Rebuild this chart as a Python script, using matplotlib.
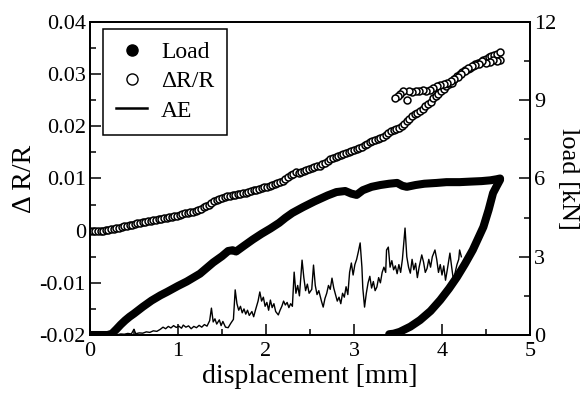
import matplotlib
matplotlib.use("Agg")
import matplotlib.pyplot as plt
from matplotlib.lines import Line2D
from matplotlib.ticker import MultipleLocator

plt.rcParams["font.family"] = ["Liberation Serif", "DejaVu Serif"]

# load during loading, displacement [mm] -> load [kN]
load_up_x = [0.00, 0.10, 0.20, 0.25, 0.30, 0.35, 0.40, 0.45, 0.50, 0.60, 0.70,
             0.80, 0.875, 1.00, 1.10, 1.25, 1.40, 1.50, 1.57, 1.62, 1.66, 1.75,
             1.85, 1.95, 2.05, 2.15, 2.22, 2.30, 2.42, 2.55, 2.70, 2.80, 2.90,
             2.97, 3.03, 3.10, 3.20, 3.30, 3.40, 3.49, 3.55, 3.60, 3.70, 3.80,
             3.94, 4.05, 4.20, 4.32, 4.45, 4.55, 4.62, 4.66]
load_up_y = [0.00, 0.00, 0.00, 0.05, 0.22, 0.40, 0.56, 0.70, 0.82, 1.08, 1.32,
             1.52, 1.65, 1.88, 2.05, 2.35, 2.78, 3.02, 3.22, 3.25, 3.20, 3.42,
             3.66, 3.88, 4.08, 4.30, 4.49, 4.68, 4.90, 5.12, 5.35, 5.48, 5.52,
             5.42, 5.37, 5.55, 5.68, 5.75, 5.80, 5.83, 5.72, 5.68, 5.75, 5.80,
             5.83, 5.86, 5.86, 5.88, 5.90, 5.93, 5.97, 6.00]

# load during unloading
load_down_x = [4.66, 4.62, 4.58, 4.53, 4.47, 4.41, 4.35, 4.26, 4.17, 4.08,
               3.98, 3.87, 3.75, 3.64, 3.52, 3.45, 3.40]
load_down_y = [5.95, 5.70, 5.44, 4.80, 4.14, 3.70, 3.26, 2.72, 2.22, 1.78,
               1.34, 0.92, 0.57, 0.32, 0.12, 0.05, 0.03]

# resistance change, loading branch
dr_up_x = [0.00, 0.03, 0.06, 0.09, 0.12, 0.15, 0.18, 0.21, 0.24, 0.27, 0.30,
           0.33, 0.36, 0.39, 0.42, 0.45, 0.48, 0.51, 0.54, 0.57, 0.60, 0.63,
           0.66, 0.69, 0.72, 0.75, 0.78, 0.81, 0.84, 0.87, 0.90, 0.93, 0.96,
           0.99, 1.02, 1.05, 1.08, 1.11, 1.14, 1.17, 1.20, 1.23, 1.26, 1.29,
           1.32, 1.35, 1.38, 1.41, 1.44, 1.47, 1.50, 1.53, 1.56, 1.59, 1.62,
           1.65, 1.68, 1.71, 1.74, 1.77, 1.80, 1.83, 1.86, 1.89, 1.92, 1.95,
           1.98, 2.01, 2.04, 2.07, 2.10, 2.13, 2.16, 2.19, 2.22, 2.25, 2.28,
           2.31, 2.34, 2.37, 2.40, 2.43, 2.46, 2.49, 2.52, 2.55, 2.58, 2.61,
           2.64, 2.67, 2.70, 2.73, 2.76, 2.79, 2.82, 2.85, 2.88, 2.91, 2.94,
           2.97, 3.00, 3.03, 3.06, 3.09, 3.12, 3.15, 3.18, 3.21, 3.24, 3.27,
           3.30, 3.33, 3.36, 3.39, 3.42, 3.45, 3.48, 3.51, 3.54, 3.57, 3.60,
           3.63, 3.66, 3.69, 3.72, 3.75, 3.78, 3.81, 3.84, 3.87, 3.90, 3.93,
           3.96, 3.99, 4.02, 4.05, 4.08, 4.11, 4.14, 4.17, 4.20, 4.23, 4.26,
           4.29, 4.32, 4.35, 4.38, 4.41, 4.44, 4.47, 4.50, 4.53, 4.56, 4.59,
           4.62, 4.66]
dr_up_y = [0.0000, 0.0000, 0.0000, -0.0001, 0.0000, 0.0000, 0.0001, 0.0002,
           0.0003, 0.0004, 0.0005, 0.0006, 0.0007, 0.0008, 0.0009, 0.0010,
           0.0011, 0.00125, 0.0014, 0.0015, 0.0016, 0.0017, 0.0018, 0.0019,
           0.0020, 0.0021, 0.0022, 0.0023, 0.0024, 0.0025, 0.0026, 0.0027,
           0.0028, 0.0029, 0.0030, 0.0032, 0.0033, 0.0034, 0.0035, 0.0036,
           0.0038, 0.0040, 0.0042, 0.0045, 0.0047, 0.0050, 0.0053, 0.0056,
           0.0058, 0.0061, 0.0063, 0.0065, 0.0066, 0.0067, 0.0068, 0.0069,
           0.0070, 0.0071, 0.0072, 0.0073, 0.0074, 0.0076, 0.0077, 0.0078,
           0.0080, 0.0081, 0.0083, 0.0084, 0.0086, 0.0088, 0.0090, 0.0092,
           0.0094, 0.0096, 0.0099, 0.0102, 0.0106, 0.0109, 0.0112, 0.0110,
           0.0113, 0.0115, 0.0117, 0.0119, 0.0120, 0.0122, 0.0123, 0.0124,
           0.0127, 0.0130, 0.0134, 0.0137, 0.0140, 0.0142, 0.0144, 0.0145,
           0.0146, 0.0148, 0.0150, 0.0152, 0.0154, 0.0156, 0.0158, 0.0161,
           0.0164, 0.0167, 0.0170, 0.0172, 0.0174, 0.0175, 0.0177, 0.0180,
           0.0184, 0.0188, 0.0191, 0.0193, 0.0194, 0.0196, 0.0200, 0.0205,
           0.0210, 0.0214, 0.0219, 0.0223, 0.0226, 0.0229, 0.0233, 0.0238,
           0.0243, 0.0247, 0.0254, 0.0258, 0.0262, 0.0267, 0.0272, 0.0278,
           0.0281, 0.0284, 0.0290, 0.0296, 0.0300, 0.0304, 0.0308, 0.0310,
           0.0312, 0.0316, 0.0320, 0.0322, 0.0324, 0.0327, 0.0330, 0.0332,
           0.0335, 0.0337, 0.0339, 0.0343]

# resistance change, unloading branch
dr_down_x = [4.66, 4.62, 4.58, 4.54, 4.50, 4.46, 4.42, 4.38, 4.34, 4.30, 4.26,
             4.22, 4.18, 4.14, 4.10, 4.06, 4.02, 3.98, 3.94, 3.90, 3.86, 3.82,
             3.78, 3.74, 3.70, 3.66, 3.62, 3.60, 3.56, 3.52, 3.50, 3.47]
dr_down_y = [0.0328, 0.0326, 0.0327, 0.0324, 0.0322, 0.0325, 0.0320, 0.0318,
             0.0316, 0.0311, 0.0306, 0.0300, 0.0294, 0.0290, 0.0287, 0.0284,
             0.0281, 0.0280, 0.0277, 0.0274, 0.0270, 0.0268, 0.0269, 0.0267,
             0.0268, 0.0266, 0.0268, 0.0250, 0.0267, 0.0262, 0.0258, 0.0254]

# acoustic emission, drawn against the right axis scale
ae_x = [0.23, 0.27, 0.31, 0.35, 0.39, 0.43, 0.47, 0.50, 0.52, 0.56, 0.60,
        0.64, 0.68, 0.72, 0.76, 0.80, 0.83, 0.86, 0.89, 0.92, 0.95, 0.98,
        1.01, 1.04, 1.06, 1.09, 1.12, 1.15, 1.18, 1.21, 1.24, 1.27, 1.30,
        1.33, 1.36, 1.38, 1.40, 1.42, 1.44, 1.47, 1.49, 1.51, 1.54, 1.57,
        1.60, 1.63, 1.65, 1.67, 1.69, 1.71, 1.73, 1.75, 1.77, 1.79, 1.81,
        1.84, 1.86, 1.88, 1.91, 1.93, 1.95, 1.97, 1.99, 2.01, 2.03, 2.05,
        2.07, 2.09, 2.11, 2.14, 2.16, 2.18, 2.20, 2.22, 2.24, 2.26, 2.28,
        2.30, 2.32, 2.34, 2.36, 2.38, 2.41, 2.43, 2.45, 2.47, 2.49, 2.52,
        2.54, 2.56, 2.58, 2.60, 2.63, 2.65, 2.67, 2.69, 2.71, 2.73, 2.75,
        2.77, 2.79, 2.81, 2.83, 2.85, 2.87, 2.89, 2.91, 2.93, 2.95, 2.97,
        2.99, 3.01, 3.03, 3.05, 3.07, 3.09, 3.10, 3.12, 3.14, 3.16, 3.18,
        3.20, 3.22, 3.24, 3.26, 3.28, 3.30, 3.32, 3.34, 3.36, 3.37, 3.39,
        3.41, 3.43, 3.45, 3.47, 3.49, 3.51, 3.53, 3.55, 3.58, 3.60, 3.62,
        3.64, 3.66, 3.68, 3.70, 3.72, 3.74, 3.77, 3.79, 3.81, 3.83, 3.85,
        3.87, 3.89, 3.92, 3.94, 3.96, 3.98, 4.00, 4.02, 4.04, 4.06, 4.09,
        4.11, 4.13, 4.15, 4.17, 4.19, 4.20, 4.22]
ae_y = [0.00, 0.02, 0.01, 0.04, 0.03, 0.06, 0.04, 0.22, 0.05, 0.08, 0.07,
        0.12, 0.10, 0.16, 0.14, 0.22, 0.30, 0.24, 0.33, 0.27, 0.36, 0.29,
        0.34, 0.26, 0.38, 0.30, 0.35, 0.24, 0.33, 0.28, 0.37, 0.30, 0.40,
        0.34, 0.55, 1.03, 0.50, 0.62, 0.42, 0.58, 0.36, 0.52, 0.30, 0.28,
        0.45, 0.60, 1.73, 1.20, 0.95, 1.10, 0.85, 1.00, 0.80, 0.95, 0.75,
        0.90, 0.70, 0.95, 1.30, 1.65, 1.30, 1.45, 1.10, 1.25, 0.95, 1.34,
        1.05, 1.20, 0.90, 0.77, 0.95, 1.10, 1.30, 1.15, 1.25, 1.05, 1.20,
        1.10, 2.41, 1.60, 1.90, 1.50, 2.87, 2.20, 1.70, 1.95, 1.60, 1.75,
        2.68, 1.90, 1.55, 1.70, 1.30, 1.07, 1.40, 1.60, 1.90, 1.75, 2.18,
        1.80, 1.55, 1.30, 1.45, 1.20, 1.60, 1.45, 1.85, 1.55, 2.40, 2.76,
        2.30, 2.70, 2.90, 3.20, 3.53, 2.60, 1.80, 1.07, 1.60, 2.00, 2.25,
        1.80, 2.05, 1.70, 1.84, 2.20, 2.00, 2.40, 2.60, 2.40, 3.26, 3.37,
        2.60, 2.85, 2.50, 2.65, 2.35, 2.70, 2.40, 2.90, 4.10, 3.00, 2.60,
        2.37, 2.90, 2.50, 2.75, 2.20, 2.60, 3.07, 2.80, 2.40, 2.55, 2.90,
        2.60, 3.00, 3.26, 2.90, 2.40, 2.70, 2.30, 2.65, 2.10, 2.50, 3.14,
        2.60, 2.10, 2.40, 2.70, 2.90, 3.26, 3.00]

fig = plt.figure(figsize=(5.85, 3.99), dpi=100)
ax = fig.add_axes([0.1538, 0.1604, 0.7522, 0.7845])
ax2 = ax.twinx()

# resistance change (open circles) on the left axis
for xs, ys in ((dr_up_x, dr_up_y), (dr_down_x, dr_down_y)):
    ax.plot(xs, ys, linestyle="none", marker="o", ms=5.0, mfc="white",
            mec="black", mew=1.1)

# load (filled, thick) and AE on the right axis
ax2.plot(ae_x, ae_y, color="black", lw=1.0)
for xs, ys in ((load_up_x, load_up_y), (load_down_x, load_down_y)):
    ax2.plot(xs, ys, color="black", lw=5.8, solid_capstyle="round",
             solid_joinstyle="round")

ax.set_xlim(0, 5)
ax.set_ylim(-0.02, 0.04)
ax2.set_ylim(0, 12)

ax.xaxis.set_major_locator(MultipleLocator(1))
ax.xaxis.set_minor_locator(MultipleLocator(0.5))
ax.yaxis.set_major_locator(MultipleLocator(0.01))
ax.yaxis.set_minor_locator(MultipleLocator(0.005))
ax2.yaxis.set_major_locator(MultipleLocator(3))
ax2.yaxis.set_minor_locator(MultipleLocator(1.5))

ax.set_yticks([-0.02, -0.01, 0, 0.01, 0.02, 0.03, 0.04])
ax.set_yticklabels(["-0.02", "-0.01", "0", "0.01", "0.02", "0.03", "0.04"])

for a in (ax, ax2):
    a.tick_params(which="major", direction="in", length=8, width=1.1,
                  labelsize=16, pad=3)
    a.tick_params(which="minor", direction="in", length=4, width=1.1)
    for s in a.spines.values():
        s.set_linewidth(1.3)
ax.tick_params(axis="x", pad=5)
ax.tick_params(top=False, right=False, which="both")

ax.set_xlabel("displacement [mm]", fontsize=20, labelpad=2)
ax.set_ylabel("Δ R/R", fontsize=20, labelpad=2)
ax2.set_ylabel("load [kN]", fontsize=19, rotation=270, labelpad=16)

handles = [
    Line2D([], [], linestyle="none", marker="o", ms=8, color="black"),
    Line2D([], [], linestyle="none", marker="o", ms=8, mfc="white",
           mec="black", mew=1.0),
    Line2D([], [], color="black", lw=1.8),
]
leg = ax2.legend(handles, ["Load", "ΔR/R", "AE"], loc="upper left",
                 bbox_to_anchor=(0.03, 0.978), borderaxespad=0, fontsize=17,
                 frameon=True, fancybox=False, framealpha=1, edgecolor="black",
                 handlelength=1.3, handletextpad=0.6, labelspacing=0.32,
                 borderpad=0.55)
leg.get_frame().set_linewidth(1.1)

fig.savefig("out.png", dpi=100)
